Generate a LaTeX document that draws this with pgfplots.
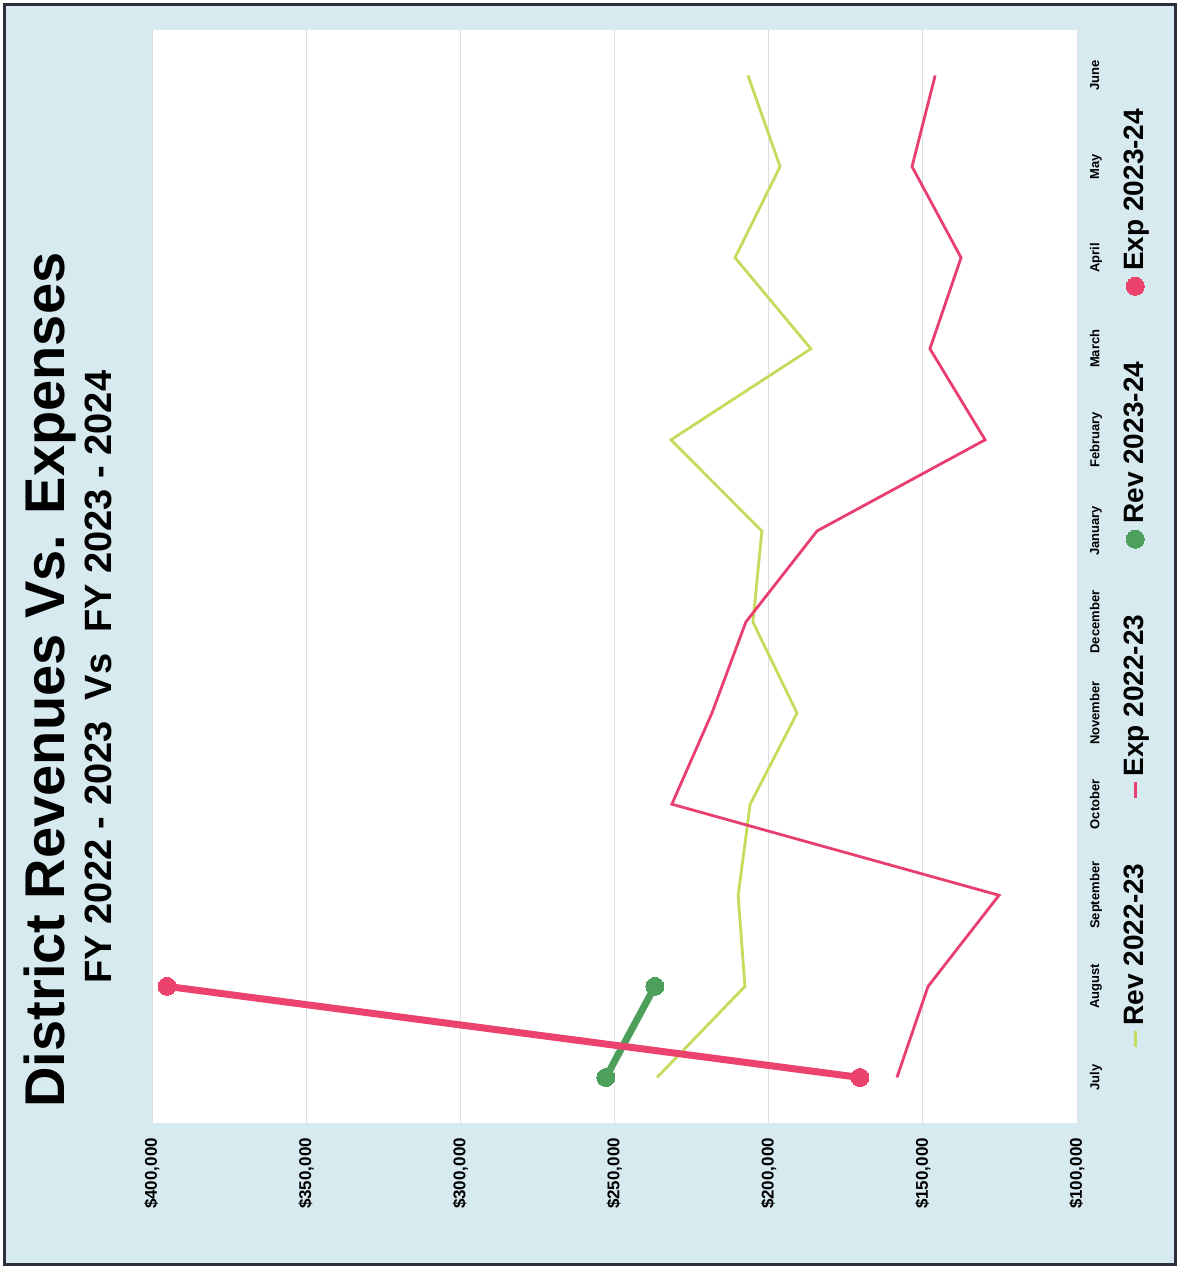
\documentclass[border=0pt]{standalone}
\usepackage{pgfplots}
\pgfplotsset{compat=1.18}
\usepackage{fontspec}
\setmainfont{Liberation Sans}

\definecolor{revold}{RGB}{196,220,92}
\definecolor{expold}{RGB}{232,62,112}
\definecolor{revnew}{RGB}{76,160,92}
\definecolor{expnew}{RGB}{236,66,110}
\definecolor{panel}{RGB}{214,234,239}
\definecolor{frameline}{RGB}{45,48,60}
\definecolor{gridgray}{RGB}{222,222,222}

\begin{document}
\begin{tikzpicture}
% the whole chart is laid out landscape and turned a quarter turn
\begin{scope}[rotate=90, transform shape]
  \fill[white] (0pt,0pt) rectangle (636pt,590pt);
  \filldraw[fill=panel, draw=frameline, line width=1.5pt]
    (3.5pt,2.5pt) rectangle (633.5pt,587.5pt);
  \node[font=\bfseries\fontsize{28}{32}\selectfont] at (296pt,565pt)
    {District Revenues Vs. Expenses};
  \node[font=\bfseries\fontsize{19}{22}\selectfont] at (297.5pt,541pt)
    {FY 2022 - 2023\ \ Vs\ \ FY 2023 - 2024};
  \begin{axis}[
    at={(74.5pt,51.5pt)}, anchor=south west,
    scale only axis, width=546.5pt, height=462.5pt,
    xmin=-0.5, xmax=11.5, ymin=100000, ymax=400000,
    xtick={0,...,11},
    xticklabels={July,August,September,October,November,December,January,February,March,April,May,June},
    ytick={100000,150000,200000,250000,300000,350000,400000},
    yticklabels={{\$100,000},{\$150,000},{\$200,000},{\$250,000},{\$300,000},{\$350,000},{\$400,000}},
    scaled y ticks=false,
    xticklabel style={font=\bfseries\fontsize{6.5}{7}\selectfont, yshift=-3pt},
    yticklabel style={font=\bfseries\fontsize{8.5}{9}\selectfont, xshift=-4pt},
    axis line style={draw=none},
    major tick length=0pt,
    ymajorgrids,
    grid style={gridgray, line width=0.4pt},
    axis background/.style={fill=white},
    legend columns=4,
    legend style={at={(0.5,-0.063)}, anchor=center, draw=none, fill=none,
      font=\bfseries\fontsize{14}{16}\selectfont,
      /tikz/every even column/.append style={column sep=30pt}},
    legend image code/.code={\draw[#1, mark repeat=2, mark phase=2]
      plot coordinates {(0pt,0pt) (4pt,0pt) (8pt,0pt)};},
  ]
    \addplot[revold, line width=1.4pt] coordinates {
      (0,236200) (1,207700) (2,209900) (3,206000) (4,190800) (5,205100)
      (6,202200) (7,231700) (8,186300) (9,210900) (10,196300) (11,206700)};
    \addlegendentry{Rev 2022-23}
    \addplot[expold, line width=1.4pt] coordinates {
      (0,158400) (1,148300) (2,125300) (3,231400) (4,218400) (5,207400)
      (6,184300) (7,129800) (8,147700) (9,137600) (10,153500) (11,146000)};
    \addlegendentry{Exp 2022-23}
    \addplot[revnew, line width=3.5pt, mark=*, mark size=4.5pt,
      mark options={line width=0pt}] coordinates {
      (0,252800) (1,236900)};
    \addlegendentry{Rev 2023-24}
    \addplot[expnew, line width=3.5pt, mark=*, mark size=4.5pt,
      mark options={line width=0pt}] coordinates {
      (0,170400) (1,395100)};
    \addlegendentry{Exp 2023-24}
  \end{axis}
\end{scope}
\end{tikzpicture}
\end{document}
